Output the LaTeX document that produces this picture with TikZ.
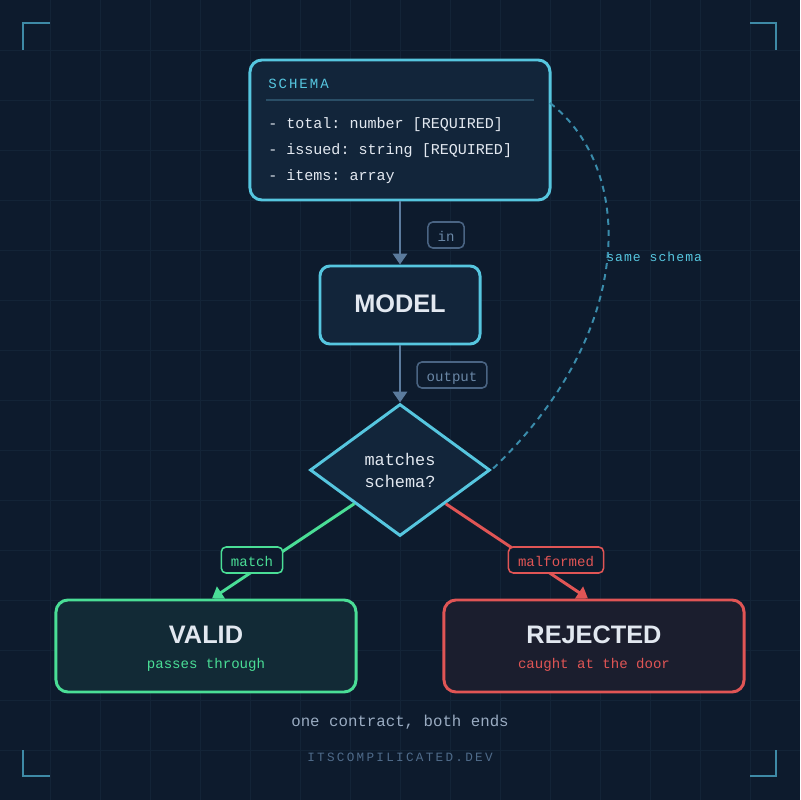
\documentclass[tikz,border=0pt]{standalone}
\usepackage{fontspec}
\setmainfont{Liberation Sans}
\setmonofont{Liberation Mono}
\newfontfamily\headmono[LetterSpace=14]{Liberation Mono}
\newfontfamily\brandmono[LetterSpace=18]{Liberation Mono}
\newfontfamily\notemono[LetterSpace=8]{Liberation Mono}
\usepackage{tikz}
\usetikzlibrary{arrows.meta,shapes.geometric,calc}
\definecolor{bgcol}{HTML}{0D1B2D}
\definecolor{gridcol}{HTML}{132437}
\definecolor{cyanline}{HTML}{56C6DF}
\definecolor{boxfill}{HTML}{12253A}
\definecolor{inktext}{HTML}{E2E8F0}
\definecolor{ruledim}{HTML}{2A4E66}
\definecolor{arrowgray}{HTML}{5B7B9D}
\definecolor{taggray}{HTML}{4A6483}
\definecolor{tagtext}{HTML}{6A87A6}
\definecolor{okgreen}{HTML}{4ADE96}
\definecolor{okfill}{HTML}{122A36}
\definecolor{badred}{HTML}{E05555}
\definecolor{badfill}{HTML}{1B1E2E}
\definecolor{dashcyan}{HTML}{3A8CAB}
\definecolor{footgray}{HTML}{9AACC2}
\definecolor{brandgray}{HTML}{4F6B8A}
\definecolor{cornercol}{HTML}{3E8AA6}
\tikzstyle{gridline} = [draw=gridcol, line width=0.7pt]
\tikzstyle{corner} = [draw=cornercol, line width=1.6pt]
\tikzstyle{box} = [draw=cyanline, fill=boxfill, line width=2.1pt, rounded corners=0.3cm]
\tikzstyle{field} = [inktext, anchor=base west, inner sep=0pt, font={\ttfamily\fontsize{10.7}{13}\selectfont}]
\tikzstyle{title} = [inktext, inner sep=0pt, font={\bfseries\fontsize{18}{22}\selectfont}]
\tikzstyle{sub} = [anchor=base, inner sep=0pt, font={\ttfamily\fontsize{10}{12}\selectfont}]
\tikzstyle{tag} = [draw=taggray, text=tagtext, fill=bgcol, line width=1.1pt, rounded corners=0.12cm, minimum height=0.65cm, inner xsep=0.24cm, inner ysep=0pt, text height=1em, text depth=0.14em, font={\ttfamily\fontsize{10}{12}\selectfont}]
\tikzstyle{flow} = [draw=arrowgray, line width=2.1pt, -{Triangle[width=0.35cm,length=0.27cm]}]
\tikzstyle{okflow} = [flow, draw=okgreen, fill=okgreen]
\tikzstyle{badflow} = [flow, draw=badred, fill=badred]

\begin{document}
\begin{tikzpicture}[x=0.025cm,y=-0.025cm]
    \useasboundingbox (0,0) rectangle (800,800);
    \fill[bgcol] (0,0) rectangle (800,800);
    \foreach \g in {50,100,...,750}{
        \draw[gridline] (\g,0) -- (\g,800);
        \draw[gridline] (0,\g) -- (800,\g);
    }
    \draw[corner] (23,50) -- (23,23) -- (50,23);
    \draw[corner] (750,23) -- (776,23) -- (776,50);
    \draw[corner] (23,750) -- (23,776) -- (50,776);
    \draw[corner] (750,776) -- (776,776) -- (776,750);

    \node[box,minimum width=7.5cm,minimum height=3.5cm](schema) at (400,130){};
    \node[anchor=base west,inner sep=0pt,text=cyanline,font={\headmono\fontsize{10}{12}\selectfont}](head) at (268,89){SCHEMA};
    \draw[draw=ruledim,line width=1.1pt] (266,100) -- (534,100);
    \node[field](total) at (268,129){- total: number [REQUIRED]};
    \node[field](issued) at (268,155){- issued: string [REQUIRED]};
    \node[field](items) at (268,181){- items: array};
    \coordinate (schemaport) at (550,103);

    \node[box,rounded corners=0.25cm,minimum width=4cm,minimum height=1.95cm](model) at (400,305){};
    \node[title](modeltxt) at (400,304){MODEL};

    \node[diamond,draw=cyanline,fill=boxfill,line width=2.1pt,inner sep=0pt,minimum width=4.5cm,minimum height=3.3cm,text=inktext,align=center,font={\ttfamily\fontsize{12}{15.6}\selectfont}](decision) at (400,470){matches\\schema?};

    \node[box,draw=okgreen,fill=okfill,minimum width=7.5cm,minimum height=2.3cm](valid) at (206,646){};
    \node[title](validtxt) at (206,635){VALID};
    \node[sub,text=okgreen](validsub) at (206,668){passes through};

    \node[box,draw=badred,fill=badfill,minimum width=7.5cm,minimum height=2.3cm](rejected) at (594,646){};
    \node[title](rejectedtxt) at (594,635){REJECTED};
    \node[sub,text=badred](rejectedsub) at (594,668){caught at the door};

    \draw[flow](schema)--(model);
    \draw[flow](model)--(decision);
    \draw[okflow](decision.south west)--($(valid.north)+(6,0)$);
    \draw[badflow](decision.south east)--($(rejected.north)+(-6,0)$);
    \draw[draw=dashcyan,line width=1.4pt,dash pattern=on 4.3pt off 3.6pt](schemaport) .. controls (636,170) and (636,333) .. (decision.east);

    \node[tag](in) at (446,235){in};
    \node[tag](output) at (452,375){output};
    \node[tag,draw=okgreen,text=okgreen](match) at (252,560){match};
    \node[tag,draw=badred,text=badred](malformed) at (556,560){malformed};
    \node[anchor=west,inner sep=0pt,text=cyanline,font={\notemono\fontsize{9.3}{11}\selectfont}](same) at (606,257){same schema};

    \node[anchor=base,inner sep=0pt,text=footgray,font={\ttfamily\fontsize{11.2}{13}\selectfont}](motto) at (400,726){one contract, both ends};
    \node[anchor=base,inner sep=0pt,text=brandgray,font={\brandmono\fontsize{9}{11}\selectfont}](brand) at (400,761){ITSCOMPILICATED.DEV};
\end{tikzpicture}
\end{document}
